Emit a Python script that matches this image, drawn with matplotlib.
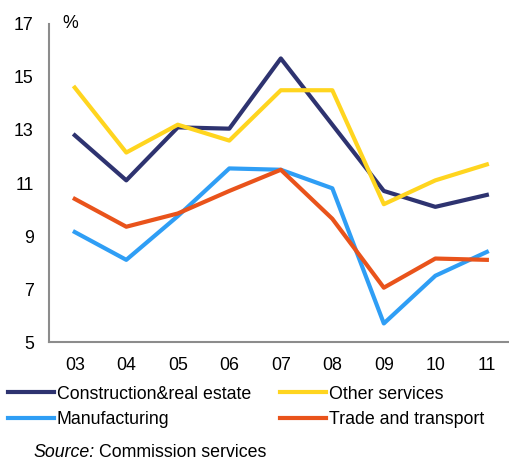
import matplotlib
matplotlib.use("Agg")
import matplotlib.pyplot as plt

years = ["03", "04", "05", "06", "07", "08", "09", "10", "11"]
construction = [12.8, 11.1, 13.1, 13.05, 15.7, 13.2, 10.7, 10.1, 10.55]
other_services = [14.6, 12.15, 13.2, 12.6, 14.5, 14.5, 10.2, 11.1, 11.7]
manufacturing = [9.15, 8.1, 9.75, 11.55, 11.5, 10.8, 5.7, 7.5, 8.4]
trade = [10.4, 9.35, 9.85, 10.7, 11.5, 9.65, 7.05, 8.15, 8.1]

plt.rcParams['font.family'] = ['Liberation Sans', 'DejaVu Sans']
plt.rcParams['font.size'] = 12.8

fig = plt.figure(figsize=(5.09, 4.63), dpi=100)
ax = fig.add_axes([0.0963, 0.2613, 0.9037, 0.6869])

x = range(len(years))
lw = 3.0
ax.plot(x, construction, color='#2e3370', lw=lw, label='Construction&real estate')
ax.plot(x, other_services, color='#ffd51f', lw=lw, label='Other services')
ax.plot(x, manufacturing, color='#2f9ef5', lw=lw, label='Manufacturing')
ax.plot(x, trade, color='#e9531b', lw=lw, label='Trade and transport')

ax.set_xlim(-0.5, 8.43)
ax.set_ylim(5, 17)
ax.set_yticks([5, 7, 9, 11, 13, 15, 17])
ax.set_xticks(list(x))
ax.set_xticklabels(years)
ax.tick_params(length=0, pad=11)
ax.tick_params(axis='y', pad=11)
for s in ['top', 'right']:
    ax.spines[s].set_visible(False)
for s in ['left', 'bottom']:
    ax.spines[s].set_color('#8c8c8c')
    ax.spines[s].set_linewidth(1.5)

ax.text(0.03, 1.0, '%', transform=ax.transAxes, ha='left', va='center')

h, l = ax.get_legend_handles_labels()
order = [0, 2, 1, 3]
fig.legend([h[i] for i in order], [l[i] for i in order], ncol=2,
           loc='upper left', bbox_to_anchor=(0.008, 0.175), frameon=False,
           handlelength=2.6, handletextpad=0.15, columnspacing=1.65,
           labelspacing=0.5, borderaxespad=0, borderpad=0.2)

fig.text(0.065, 0.022, 'Source:', style='italic', ha='left', va='center')
fig.text(0.1945, 0.022, 'Commission services', ha='left', va='center')

fig.savefig('out.png', dpi=100)
